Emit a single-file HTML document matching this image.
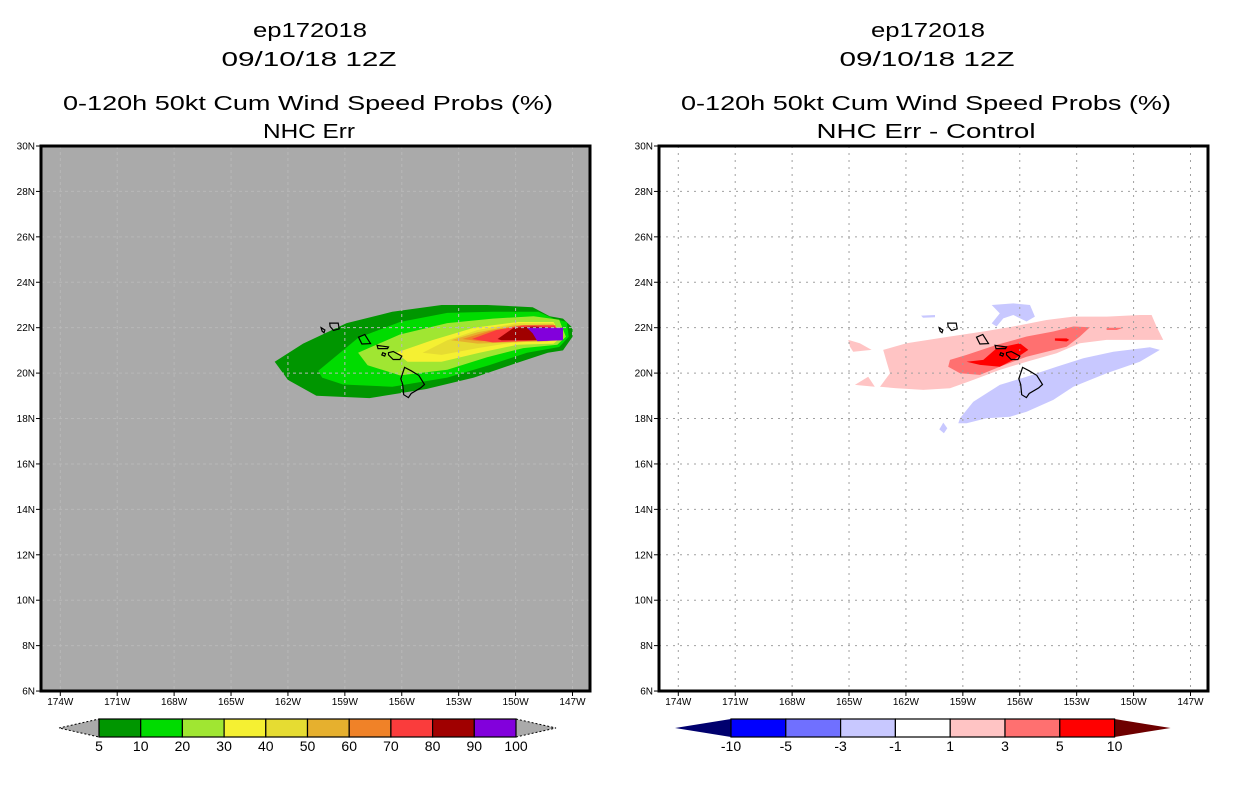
<!DOCTYPE html>
<html><head><meta charset="utf-8"><style>
html,body{margin:0;padding:0;background:#fff;}
svg{display:block;font-family:"Liberation Sans",sans-serif;}
</style></head><body>
<svg id="chart" width="1236" height="800" viewBox="0 0 1236 800">
<g font-size="20" text-anchor="middle" fill="#000" lengthAdjust="spacingAndGlyphs">
<text x="310" y="37" textLength="114" lengthAdjust="spacingAndGlyphs">ep172018</text><text x="309" y="66" textLength="175" lengthAdjust="spacingAndGlyphs">09/10/18 12Z</text>
<text x="308" y="110" textLength="490" lengthAdjust="spacingAndGlyphs">0-120h 50kt Cum Wind Speed Probs (%)</text><text x="309" y="138" textLength="92" lengthAdjust="spacingAndGlyphs">NHC Err</text></g>
<g font-size="20" text-anchor="middle" fill="#000">
<text x="928" y="37" textLength="114" lengthAdjust="spacingAndGlyphs">ep172018</text><text x="927" y="66" textLength="175" lengthAdjust="spacingAndGlyphs">09/10/18 12Z</text>
<text x="926" y="110" textLength="490" lengthAdjust="spacingAndGlyphs">0-120h 50kt Cum Wind Speed Probs (%)</text><text x="926" y="138" textLength="219" lengthAdjust="spacingAndGlyphs">NHC Err - Control</text></g>
<g id="left"></g>
<g id="right"></g>
<g id="cbars"></g>
</svg>
<script>
const latTicks=[6,8,10,12,14,16,18,20,22,24,26,28,30];
const lonTicks=[174,171,168,165,162,159,156,153,150,147];
// left panel probability contours [lonW, latN]
const probLevels=[5,10,20,30,40,50,60,70,80,90];
const probColors=["#009600","#00dc00","#a0e632","#f5f032","#e6dc32","#e6b02e","#f08228","#fa3c3c","#a00000","#8200dc"];
const prob5=[[162.7,20.5],[161.2,21.3],[158.9,22.2],[156.5,22.7],[153.9,23.0],[151.5,23.0],[149.1,22.9],[148.2,22.5],[147.5,22.4],[147.0,22.0],[147.0,21.6],[147.5,21.0],[148.3,20.9],[150.1,20.4],[152.2,19.8],[154.7,19.3],[157.7,18.9],[160.5,19.0],[162.0,19.7]];
const prob10=[[160.4,20.1],[158.3,21.55],[156.1,22.25],[153.6,22.65],[151.2,22.7],[148.8,22.7],[148.0,22.4],[147.3,22.25],[147.2,21.6],[147.7,21.15],[149.4,20.9],[151.4,20.35],[153.6,19.8],[156.5,19.4],[159.1,19.5],[160.2,19.8]];
const prob20=[[158.3,20.9],[156.1,21.7],[153.6,22.2],[151.2,22.4],[149.05,22.5],[147.7,22.35],[147.35,21.6],[147.8,21.25],[149.6,21.1],[151.5,20.7],[153.6,20.15],[156.1,19.9],[157.8,20.35]];
const prob30=[[156.3,20.9],[154.4,21.45],[152.2,22.0],[149.9,22.25],[148.0,22.25],[147.55,21.6],[148.0,21.3],[149.9,21.25],[151.9,20.9],[153.9,20.5],[155.7,20.5]];
const prob40=[[154.9,20.9],[153.6,21.45],[152.0,21.9],[149.9,22.2],[148.0,22.2],[147.7,21.6],[148.2,21.4],[150.1,21.35],[152.0,21.1],[153.9,20.8]];
const prob50=[[153.4,21.45],[152.0,21.8],[150.1,22.1],[148.0,22.15],[147.8,21.6],[148.3,21.4],[150.2,21.35],[152.0,21.3]];
const prob60=[[152.8,21.5],[151.4,21.85],[149.7,22.1],[147.9,22.1],[147.8,21.6],[148.4,21.45],[150.4,21.45],[151.9,21.4]];
const prob70=[[152.3,21.5],[151.0,21.9],[149.6,22.1],[147.9,22.1],[147.8,21.6],[148.5,21.45],[151.2,21.35]];
const prob80=[[150.95,21.5],[150.1,22.0],[149.05,22.05],[148.0,22.0],[148.0,21.45],[150.75,21.45]];
const prob90=[[149.4,22.0],[147.5,22.0],[147.5,21.45],[148.85,21.4],[149.1,21.75]];
// right panel difference contours
const diffLabels=["-10","-5","-3","-1","1","3","5","10"];
const diffColors=["#0000ff","#7070ff","#c8c8ff","#ffffff","#ffc4c4","#ff7070","#ff0000"];
const pink1=[[163.2,21.02],[161.97,21.31],[159.68,21.61],[157.92,21.83],[156.34,22.05],[154.59,22.34],[153.18,22.49],[151.42,22.49],[149.67,22.56],[149.05,22.56],[148.79,22.05],[148.44,21.46],[149.67,21.46],[151.42,21.46],[152.83,21.31],[154.06,20.87],[155.64,20.5],[157.05,20.14],[158.45,19.7],[159.68,19.33],[161.09,19.26],[162.49,19.33],[163.37,19.4],[162.84,19.99],[163.02,20.5]];
const pink2=[[165.04,21.46],[164.43,21.31],[163.81,21.02],[164.78,20.94],[164.95,21.16]];
const pink3=[[164.69,19.48],[163.99,19.84],[163.64,19.4]];
const salmon1=[[159.68,20.58],[158.8,20.8],[157.22,21.24],[155.64,21.61],[154.23,21.83],[153.18,22.05],[152.3,22.02],[152.83,21.61],[153.53,21.16],[155.64,20.72],[157.05,20.28],[158.1,19.92],[159.15,19.99],[159.77,20.28]];
const salmon2=[[151.42,22.0],[150.54,22.0],[150.89,21.9],[151.42,21.9]];
const red1=[[158.8,20.5],[157.92,20.58],[157.22,21.09],[155.99,21.31],[155.55,21.02],[156.34,20.58],[157.05,20.28],[158.1,20.36]];
const red2=[[154.15,21.53],[153.53,21.53],[153.39,21.46],[153.53,21.39],[154.15,21.43]];
const blue1=[[157.48,23.0],[156.34,23.07],[155.46,23.0],[155.2,22.49],[155.64,22.27],[156.34,22.56],[156.87,22.41],[157.22,22.05],[157.48,22.19],[157.05,22.63]];
const blue2=[[161.2,22.53],[160.47,22.56],[160.47,22.46],[161.1,22.44]];
const blue3=[[159.15,18.01],[158.45,18.74],[157.05,19.48],[155.64,19.84],[154.06,20.28],[152.65,20.65],[151.07,20.94],[149.14,21.14],[148.61,21.02],[149.67,20.5],[151.42,19.99],[153.18,19.4],[154.23,18.82],[155.64,18.3],[156.52,18.08],[157.75,18.01],[158.8,17.79],[159.24,17.79]];
const blue4=[[160.03,17.82],[159.82,17.57],[160.0,17.35],[160.24,17.52]];
// Hawaiian islands outlines
const islands={
 hawaii:[[155.85,20.25],[155.5,20.1],[155.1,19.9],[154.8,19.5],[155.0,19.35],[155.5,19.1],[155.65,18.92],[155.9,19.05],[155.95,19.5],[156.05,19.75]],
 maui:[[156.7,20.9],[156.45,20.95],[156.0,20.75],[156.1,20.6],[156.45,20.6],[156.7,20.8]],
 molokai:[[157.3,21.22],[156.7,21.15],[156.75,21.08],[157.25,21.08]],
 lanai:[[157.0,20.9],[156.85,20.85],[156.9,20.75],[157.05,20.8]],
 oahu:[[158.28,21.58],[157.95,21.7],[157.65,21.3],[158.1,21.28]],
 kauai:[[159.8,22.2],[159.35,22.2],[159.3,21.95],[159.6,21.88],[159.78,22.05]],
 niihau:[[160.25,22.0],[160.05,21.9],[160.1,21.78],[160.2,21.85]]
};
const NS="http://www.w3.org/2000/svg";
function mk(tag,attrs,parent){const e=document.createElementNS(NS,tag);for(const k in attrs)e.setAttribute(k,attrs[k]);parent.appendChild(e);return e;}
function panel(g,x0,bg){
  const L=x0, R=x0+549, T=146, B=691;
  const X=w=>L+19.3+(174-w)*18.97;
  const Y=la=>T+(30-la)*22.71;
  const r=mk('rect',{x:L,y:T,width:549,height:545,fill:bg},g);
  
  
  const poly=(pts,fill,stroke,sw,name)=>{const p=mk('polygon',{points:pts.map(q=>X(q[0]).toFixed(1)+','+Y(q[1]).toFixed(1)).join(' '),fill:fill,stroke:stroke||'none','stroke-width':sw||0},g);
    
    return p;};
  return {X,Y,L,R,T,B,poly};
}
function gridAndAxes(g,P,gcol,dash){
  latTicks.forEach(la=>{
    if(la>6&&la<30){const l=mk('line',{x1:P.L,x2:P.R,y1:P.Y(la),y2:P.Y(la),stroke:gcol,'stroke-dasharray':dash,'stroke-width':1},g);
      
      }
    const t=mk('line',{x1:P.L-5,x2:P.L,y1:P.Y(la),y2:P.Y(la),stroke:'#000'},g);
    
    
    const tx=mk('text',{x:P.L-6,y:P.Y(la)+3.5,'font-size':10,'text-anchor':'end'},g);tx.textContent=la+'N';
    
    
  });
  lonTicks.forEach(w=>{
    const l=mk('line',{x1:P.X(w),x2:P.X(w),y1:P.T,y2:P.B,stroke:gcol,'stroke-dasharray':dash,'stroke-width':1},g);
    
    
    const t=mk('line',{x1:P.X(w),x2:P.X(w),y1:P.B,y2:P.B+5,stroke:'#000'},g);
    
    
    const tx=mk('text',{x:P.X(w),y:P.B+14,'font-size':10,'text-anchor':'middle'},g);tx.textContent=w+'W';
    
    
  });
}
function drawIslands(P){for(const k in islands){P.poly(islands[k],'none','#000',1.2,'island-'+k);}}
function frame(g,P){const f=mk('rect',{x:P.L,y:P.T,width:549,height:545,fill:'none',stroke:'#000','stroke-width':3},g);
  
  }
// left
const gL=document.getElementById('left');
const PL=panel(gL,41,'#aaaaaa');
[prob5,prob10,prob20,prob30,prob40,prob50,prob60,prob70,prob80,prob90].forEach((p,i)=>PL.poly(p,probColors[i],null,0,'prob-contour-'+probLevels[i]));
gridAndAxes(gL,PL,'#b8b8b8','3,3');
drawIslands(PL);frame(gL,PL);
// right
const gR=document.getElementById('right');
const PR=panel(gR,659,'#ffffff');
[pink1,pink2,pink3].forEach(p=>PR.poly(p,diffColors[4],null,0,'diff-contour-1-3'));
[salmon1,salmon2].forEach(p=>PR.poly(p,diffColors[5],null,0,'diff-contour-3-5'));
[red1,red2].forEach(p=>PR.poly(p,diffColors[6],null,0,'diff-contour-5-10'));
[blue1,blue2,blue3,blue4].forEach(p=>PR.poly(p,diffColors[2],null,0,'diff-contour-neg1-neg3'));
gridAndAxes(gR,PR,'#a0a0a0','2,5');
drawIslands(PR);frame(gR,PR);
// colorbars
const gC=document.getElementById('cbars');
function cbar(x0,w,n,colors,labels,leftTri,rightTri,triLen,name){
  const yT=719,yB=737,yM=728;
  const t1=mk('polygon',{points:`${x0-triLen},${yM} ${x0},${yT} ${x0},${yB}`,fill:leftTri,stroke:leftTri==='#aaaaaa'?'#000':'none','stroke-dasharray':'2,2','stroke-width':1},gC);
  
  
  const xe=x0+w*n;
  const t2=mk('polygon',{points:`${xe},${yT} ${xe+triLen},${yM} ${xe},${yB}`,fill:rightTri,stroke:rightTri==='#aaaaaa'?'#000':'none','stroke-dasharray':'2,2','stroke-width':1},gC);
  
  
  colors.forEach((c,i)=>{const r=mk('rect',{x:x0+i*w,y:yT,width:w,height:yB-yT,fill:c,stroke:'#000','stroke-width':1.2},gC);
    
    });
  labels.forEach((s,i)=>{const t=mk('text',{x:x0+i*w,y:751,'font-size':14,'text-anchor':'middle'},gC);t.textContent=s;
    
    });
}
cbar(99,41.7,10,probColors,["5","10","20","30","40","50","60","70","80","90","100"],'#aaaaaa','#aaaaaa',40,'prob-colorbar');
cbar(731,54.8,7,diffColors,diffLabels,'#00006e','#6e0000',56,'diff-colorbar');
</script>
</body></html>
